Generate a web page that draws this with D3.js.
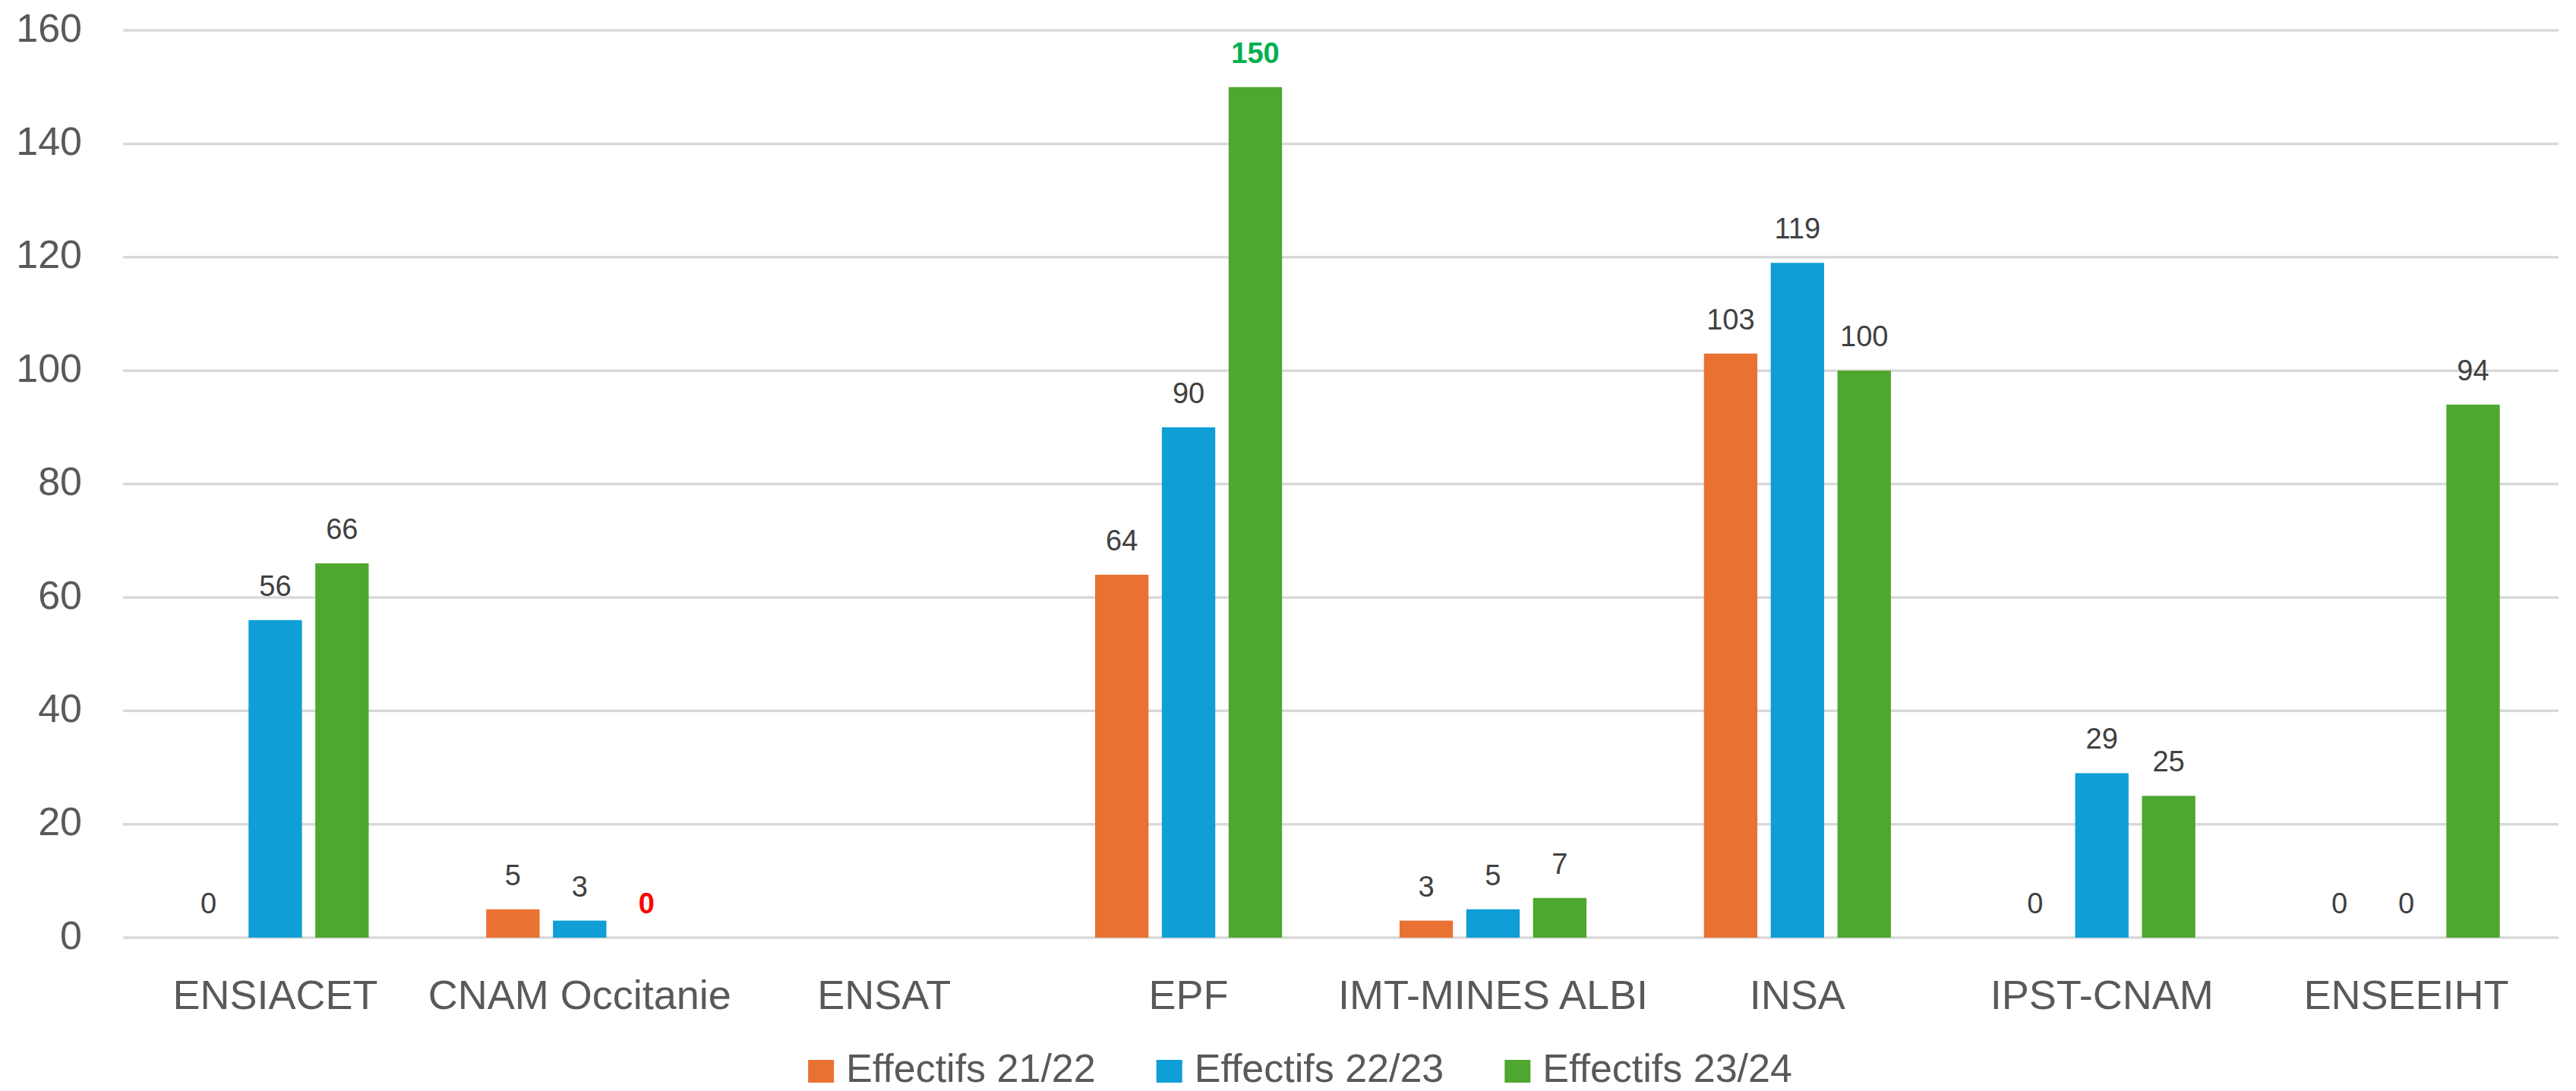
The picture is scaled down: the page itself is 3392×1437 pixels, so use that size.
<!DOCTYPE html>
<html>
<head>
<meta charset="utf-8">
<script src="https://cdn.jsdelivr.net/npm/d3@7"></script>
<style>
  body { margin: 0; background: #fff; }
  svg { display: block; }
  text { font-family: "Liberation Sans", Arial, sans-serif; fill: #595959; }
</style>
</head>
<body>
<div id="chart"></div>
<script>
// categories and series
const schools = ["ENSIACET", "CNAM Occitanie", "ENSAT", "EPF", "IMT-MINES ALBI", "INSA", "IPST-CNAM", "ENSEEIHT"]
const seriesNames = ["Effectifs 21/22", "Effectifs 22/23", "Effectifs 23/24"]
const eff2122 = [0, 5, null, 64, 3, 103, 0, 0]
const eff2223 = [56, 3, null, 90, 5, 119, 29, 0]
const eff2324 = [66, 0, null, 150, 7, 100, 25, 94]
const yTicks = [0, 20, 40, 60, 80, 100, 120, 140, 160]

const width = 3392
const height = 1437
const margin = {top: 40, right: 23, bottom: 202, left: 162}

const colors = ["#E97132", "#0F9ED5", "#4EA72E"]
// a couple of labels were coloured by hand in the original
const labelColor = {"CNAM Occitanie|2": "#FF0000", "EPF|2": "#00B050"}

const svg = d3.select("#chart").append("svg")
    .attr("width", width)
    .attr("height", height)

const x0 = d3.scaleBand()
    .domain(schools)
    .range([margin.left, width - margin.right])
    .paddingInner(0.386)
    .paddingOuter(0.193)

const x1 = d3.scaleBand()
    .domain(d3.range(seriesNames.length))
    .range([0, x0.bandwidth()])
    .paddingInner(0.2)

const y = d3.scaleLinear()
    .domain([0, 160])
    .range([height - margin.bottom, margin.top])

// gridlines
svg.append("g")
    .selectAll("line")
    .data(yTicks)
    .join("line")
        .attr("x1", margin.left)
        .attr("x2", width - margin.right)
        .attr("y1", d => y(d))
        .attr("y2", d => y(d))
        .attr("stroke", "#d9d9d9")
        .attr("stroke-width", 3.5)

// y axis labels
svg.append("g")
    .selectAll("text")
    .data(yTicks)
    .join("text")
        .attr("x", 108)
        .attr("y", d => y(d) - 4)
        .attr("dy", "0.36em")
        .attr("text-anchor", "end")
        .style("font-size", "52px")
        .text(d => d)

const table = [eff2122, eff2223, eff2324]
const cells = []
schools.forEach((s, i) => {
    table.forEach((vals, k) => {
        if (vals[i] !== null) cells.push({school: s, k: k, value: vals[i]})
    })
})

// bars
svg.append("g")
    .selectAll("rect")
    .data(cells)
    .join("rect")
        .attr("x", d => x0(d.school) + x1(d.k))
        .attr("width", x1.bandwidth())
        .attr("y", d => y(d.value))
        .attr("height", d => y(0) - y(d.value))
        .attr("fill", d => colors[d.k])

// value labels
svg.append("g")
    .selectAll("text")
    .data(cells)
    .join("text")
        .attr("x", d => x0(d.school) + x1(d.k) + x1.bandwidth() / 2)
        .attr("y", d => y(d.value) - 32)
        .attr("text-anchor", "middle")
        .style("font-size", "38px")
        .style("fill", d => labelColor[d.school + "|" + d.k] || "#404040")
        .style("font-weight", d => labelColor[d.school + "|" + d.k] ? "bold" : "normal")
        .text(d => d.value)

// category labels
svg.append("g")
    .selectAll("text")
    .data(schools)
    .join("text")
        .attr("x", d => x0(d) + x0.bandwidth() / 2)
        .attr("y", 1329)
        .attr("text-anchor", "middle")
        .style("font-size", "54px")
        .text(d => d)

// legend
const legend = svg.append("g")
const items = legend.selectAll("g")
    .data(seriesNames)
    .join("g")
items.append("rect")
    .attr("width", 34)
    .attr("height", 30)
    .attr("y", 1396)
    .attr("fill", (d, i) => colors[i])
items.append("text")
    .attr("x", 50)
    .attr("y", 1425)
    .style("font-size", "52px")
    .text(d => d)

let offset = 0
const widths = []
items.each(function() {
    widths.push(50 + d3.select(this).select("text").node().getComputedTextLength())
})
const gap = 80
const total = d3.sum(widths) + gap * (widths.length - 1)
let start = 1712 - total / 2
items.attr("transform", (d, i) => {
    const t = `translate(${start + offset},0)`
    offset += widths[i] + gap
    return t
})
</script>
</body>
</html>
